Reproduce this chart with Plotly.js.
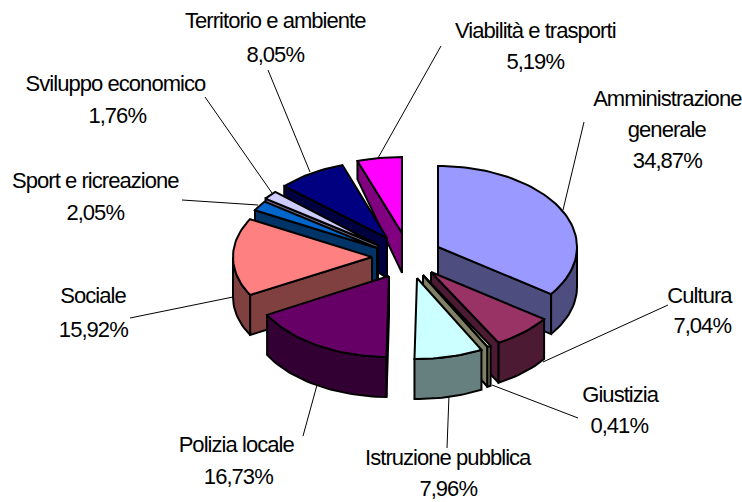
<!DOCTYPE html>
<html>
<head>
<meta charset="utf-8">
<script src="https://cdn.plot.ly/plotly-3.0.0.min.js"></script>
<style>html,body{margin:0;padding:0;background:#fff}#chart{width:742px;height:502px}#chart .annotation text{letter-spacing:-0.95px}</style>
</head>
<body>
<div id="chart"></div>
<script>
// ---- data ----
var categories = ["Amministrazione<br>generale","Cultura","Giustizia","Istruzione pubblica","Polizia locale","Sociale","Sport e ricreazione","Sviluppo economico","Territorio e ambiente","Viabilità e trasporti"];
var shares = [34.87,7.04,0.41,7.96,16.73,15.92,2.05,1.76,8.05,5.19];

// ---- styling ----
var topColors  = ["#9999FF","#993366","#FFFFCC","#CCFFFF","#660066","#FF8080","#0066CC","#CCCCFF","#000080","#FF00FF"];
var sideColors = ["#4D4D80","#4D1A33","#808066","#668080","#330033","#804040","#003366","#666680","#000040","#800080"];

// ---- layout of the exploded pie (pixel space of hidden axes) ----
var RX = 139, DEPTH = 40;
var sliceRY = [81,81,81,81,81,79,79,79,77,76];
var apexX = [438,431,423,417,389,372,377,378,387,402];
var apexY = [247,272,275,278,276,257,248,245,238,233];
var drawOrder = [9,8,7,6,5,4,0,1,2,3];
var labelLines = [
  [[667,98],[667,129],[667,160]],
  [[700,295],[702,325]],
  [[620,394],[619,425]],
  [[448,457],[448,488]],
  [[236,444],[238,476]],
  [[93,295],[93,329]],
  [[95,180],[95,212]],
  [[115,83],[117,115]],
  [[275,20],[275,54]],
  [[535,30],[535,61]]
];
var leaders = [
  [[563,210],[584,122]],
  [[543,362],[668,305]],
  [[492,385],[578,418]],
  [[449,395],[447,448]],
  [[317,385],[303,436]],
  [[233,297],[130,318]],
  [[258,205],[182,200]],
  [[272,193],[205,97]],
  [[310,172],[268,70]],
  [[378,158],[441,46]]
];

// ---- geometry helpers ----
function rad(d){return d*Math.PI/180;}
function depthAt(y){return Math.min(DEPTH, 18+0.3*(y-160));}
function pt(i,deg){return [apexX[i]+RX*Math.sin(rad(deg)), apexY[i]-sliceRY[i]*Math.cos(rad(deg))];}
function arc(i,a,b){var p=[],n=Math.max(2,Math.ceil(Math.abs(b-a)/2));for(var k=0;k<=n;k++){p.push(pt(i,a+(b-a)*k/n));}return p;}
function drop(p){return [p[0],p[1]+depthAt(p[1])];}
var traces=[];
function poly(points,color){
  var x=points.map(function(p){return p[0];}).concat([points[0][0]]);
  var y=points.map(function(p){return p[1];}).concat([points[0][1]]);
  traces.push({type:"scatter",mode:"lines",x:x,y:y,fill:"toself",fillcolor:color,
    line:{color:"#000",width:2,shape:"linear"},hoverinfo:"skip",showlegend:false});
}

// cumulative angles, clockwise from 12 o'clock
var total=shares.reduce(function(a,b){return a+b;},0), startA=[], endA=[], acc=0;
shares.forEach(function(s,i){startA[i]=acc/total*360;acc+=s;endA[i]=acc/total*360;});

// leader lines under the pie
leaders.forEach(function(l){
  traces.push({type:"scatter",mode:"lines",x:[l[0][0],l[1][0]],y:[l[0][1],l[1][1]],
    line:{color:"#000",width:1},hoverinfo:"skip",showlegend:false});
});

drawOrder.forEach(function(i){
  var a0=startA[i],a1=endA[i],apex=[apexX[i],apexY[i]],side=sideColors[i];
  // radial wall facing the viewer
  if(a1<=181){
    var e=pt(i,a1);poly([apex,e,drop(e),drop(apex)],side);
  } else if(a0>=180){
    var s=pt(i,a0);poly([apex,s,drop(s),drop(apex)],side);
  }
  // outer curved wall (front half only)
  var f0=Math.max(a0,90),f1=Math.min(a1,270);
  if(f1>f0){
    var top=arc(i,f0,f1),bottom=top.map(drop).reverse();
    poly(top.concat(bottom),side);
  }
  // top face
  poly([apex].concat(arc(i,a0,a1)),topColors[i]);
});

// labels
var annotations=[];
categories.forEach(function(name,i){
  var lines=name.split("<br>").concat([shares[i].toFixed(2).replace(".",",")+"%"]);
  lines.forEach(function(t,j){
    annotations.push({x:labelLines[i][j][0],y:labelLines[i][j][1],xref:"x",yref:"y",text:t,showarrow:false,
      xanchor:"center",yanchor:"middle",font:{family:"Liberation Sans, Arial, sans-serif",size:22,color:"#000"}});
  });
});

Plotly.newPlot("chart",traces,{
  width:742,height:502,margin:{l:0,r:0,t:0,b:0},
  paper_bgcolor:"#fff",plot_bgcolor:"#fff",showlegend:false,
  xaxis:{range:[0,742],visible:false,fixedrange:true},
  yaxis:{range:[502,0],visible:false,fixedrange:true},
  annotations:annotations
},{displayModeBar:false,staticPlot:true});
</script>
</body>
</html>
